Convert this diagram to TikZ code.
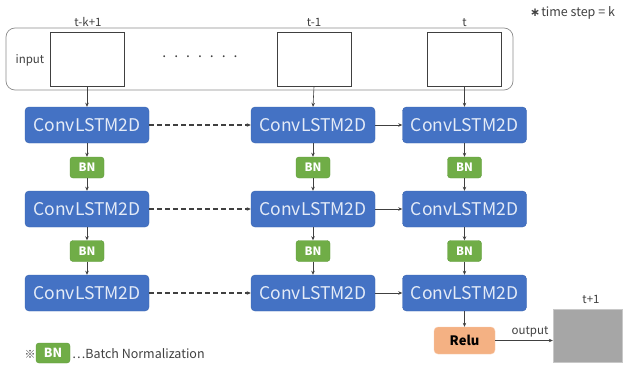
\documentclass[tikz,border=0pt]{standalone}
\usepackage{fontspec}
\setmainfont{Noto Sans CJK JP}
\newfontfamily\symfont{DejaVu Sans}
\usetikzlibrary{arrows.meta}
\definecolor{convblue}{HTML}{4472C4}
\definecolor{convedge}{HTML}{3A64AE}
\definecolor{convtext}{HTML}{E4EBF7}
\definecolor{bngreen}{HTML}{70AD47}
\definecolor{bnedge}{HTML}{5E9A38}
\definecolor{relufill}{HTML}{F4B183}
\definecolor{reluedge}{HTML}{F8CBAD}
\definecolor{outgray}{HTML}{A6A6A6}
\definecolor{outedge}{HTML}{C8C8C8}
\definecolor{linegray}{HTML}{404040}
\definecolor{txtgray}{HTML}{404040}
\tikzset{
  conv/.style={draw=convedge, fill=convblue, rounded corners=4pt, minimum width=124pt, minimum height=36pt, inner sep=0pt, text=convtext, font=\fontsize{17.5}{17.5}\selectfont},
  bnbox/.style={draw=bnedge, fill=bngreen, rounded corners=3pt, minimum width=34pt, minimum height=21pt, inner sep=0pt, text=white, font=\fontsize{11.5}{11.5}\selectfont\bfseries},
  inbox/.style={draw=black!75, line width=0.9pt, fill=white, minimum width=74pt, minimum height=54pt, inner sep=0pt},
  lbl/.style={text=txtgray, inner sep=0pt, font=\fontsize{11.5}{11.5}\selectfont},
  arr/.style={draw=linegray, line width=0.6pt, -{Stealth[length=4pt,width=3.5pt]}},
  darr/.style={draw=linegray, line width=1.2pt, dash pattern=on 5pt off 3pt, -{Stealth[length=4pt,width=3.5pt]}}
}
\begin{document}
\begin{tikzpicture}[x=1pt,y=-1pt]
\useasboundingbox (0,0) rectangle (625,367);
% input container
\draw[draw=black!45, line width=0.7pt, rounded corners=9pt] (6,28) rectangle (513,90);
\node[lbl] (inlbl) at (30,60) {input};
\node[inbox] (in1) at (87,59) {};
\node[inbox] (in2) at (314,59) {};
\node[inbox] (in3) at (464.5,59) {};
\node[lbl, anchor=base] (t1) at (88,26) {t-k+1};
\node[lbl, anchor=base] (t2) at (314,26) {t-1};
\node[lbl, anchor=base] (t3) at (464.5,26) {t};
\node[lbl, font=\fontsize{14}{14}\selectfont] (dots) at (200,57) {.\hspace{8pt}.\hspace{8pt}.\hspace{8pt}.\hspace{8pt}.\hspace{8pt}.\hspace{8pt}.};
\node[lbl, anchor=west] (ts) at (530,13) {{\symfont\fontsize{12}{12}\selectfont\bfseries ∗}\hspace{1pt}\fontsize{12.5}{12.5}\selectfont time step = k};
% conv nodes
\foreach \c/\x in {1/87,2/313,3/464.5}{
  \foreach \r/\y in {1/125,2/209,3/293}{
    \node[conv] (c\c\r) at (\x,\y) {ConvLSTM2D};
  }
  \node[bnbox] (b\c1) at (\x,167.5) {BN};
  \node[bnbox] (b\c2) at (\x,251) {BN};
  \draw[arr] (in\c.south) -- (c\c1.north);
  \draw[arr] (c\c1.south) -- (b\c1.north);
  \draw[arr] (b\c1.south) -- (c\c2.north);
  \draw[arr] (c\c2.south) -- (b\c2.north);
  \draw[arr] (b\c2.south) -- (c\c3.north);
}
\foreach \r in {1,2,3}{
  \draw[darr] (c1\r.east) -- (c2\r.west);
  \draw[arr] (c2\r.east) -- (c3\r.west);
}
% relu and output
\node[draw=reluedge, fill=relufill, rounded corners=4pt, minimum width=61pt, minimum height=27pt, inner sep=0pt, font=\fontsize{13}{13}\selectfont\bfseries] (relu) at (464.5,340.5) {Relu};
\draw[arr] (c33.south) -- (relu.north);
\node[draw=outedge, fill=outgray, minimum width=69pt, minimum height=53pt, inner sep=0pt] (out) at (587.5,335.5) {};
\node[lbl, anchor=base] (tp1) at (591,303) {t+1};
\draw[arr] (relu.east) -- (out.west |- relu.east);
\node[lbl, anchor=base] (outlbl) at (530,334) {output};
% legend
\node[lbl, font=\fontsize{11}{11}\selectfont] (kome) at (30,354) {※};
\node[bnbox, minimum height=20pt, font=\fontsize{12.5}{12.5}\selectfont\bfseries] (lbn) at (53,353) {BN};
\node[lbl, anchor=west, font=\fontsize{12.5}{12.5}\selectfont] (leg) at (72,354) {…Batch Normalization};
\end{tikzpicture}
\end{document}
